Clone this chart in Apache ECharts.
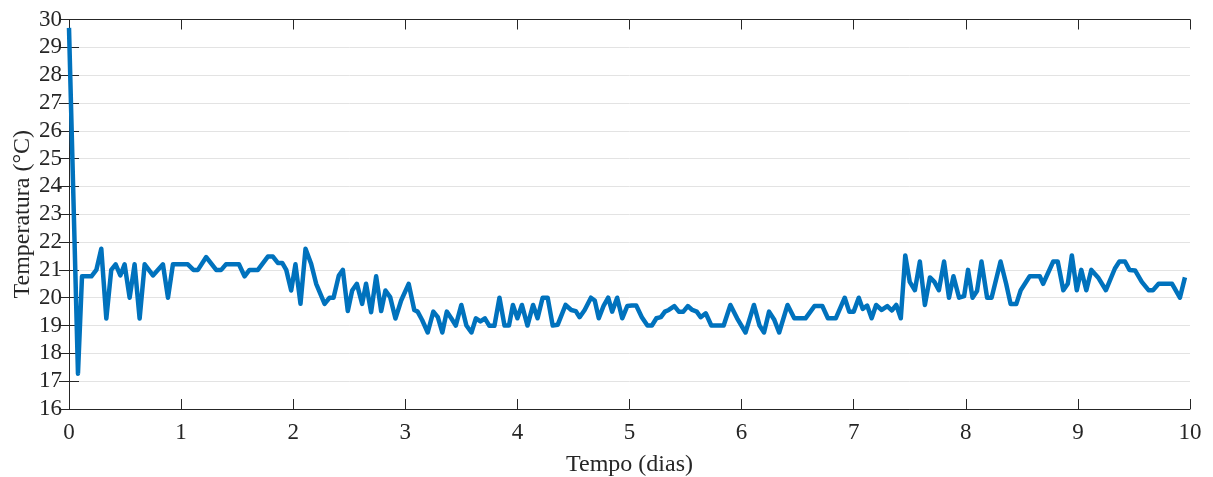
<!DOCTYPE html>
<html>
<head>
<meta charset="utf-8">
<script src="https://cdn.jsdelivr.net/npm/echarts@6/dist/echarts.min.js"></script>
<style>
html,body{margin:0;padding:0;background:#fff;}
#chart{width:1213px;height:477px;}
</style>
</head>
<body>
<div id="chart"></div>
<script>
// Time in days
var days = [0, 0.08, 0.116, 0.2, 0.244, 0.288, 0.333, 0.377, 0.416, 0.458, 0.496, 0.541, 0.585, 0.63, 0.675, 0.749, 0.838, 0.883, 0.927, 1.06, 1.11, 1.15, 1.224, 1.313, 1.358, 1.40, 1.516, 1.566, 1.61, 1.685, 1.774, 1.819, 1.863, 1.902, 1.938, 1.982, 2.02, 2.065, 2.11, 2.16, 2.205, 2.28, 2.324, 2.36, 2.407, 2.443, 2.487, 2.526, 2.568, 2.615, 2.65, 2.695, 2.74, 2.785, 2.823, 2.865, 2.912, 2.963, 3.03, 3.08, 3.11, 3.15, 3.2, 3.25, 3.29, 3.33, 3.37, 3.41, 3.45, 3.5, 3.545, 3.59, 3.63, 3.67, 3.71, 3.75, 3.795, 3.84, 3.885, 3.925, 3.96, 4.0, 4.04, 4.09, 4.14, 4.18, 4.225, 4.27, 4.315, 4.36, 4.43, 4.48, 4.52, 4.555, 4.6, 4.656, 4.69, 4.726, 4.77, 4.81, 4.845, 4.89, 4.935, 4.98, 5.02, 5.06, 5.11, 5.16, 5.2, 5.24, 5.28, 5.316, 5.35, 5.4, 5.44, 5.48, 5.52, 5.56, 5.6, 5.635, 5.68, 5.73, 5.84, 5.9, 5.96, 6.035, 6.11, 6.16, 6.2, 6.245, 6.29, 6.335, 6.41, 6.47, 6.57, 6.65, 6.72, 6.77, 6.84, 6.92, 6.96, 7.0, 7.045, 7.08, 7.12, 7.16, 7.2, 7.25, 7.3, 7.34, 7.38, 7.42, 7.46, 7.5, 7.546, 7.59, 7.635, 7.68, 7.72, 7.76, 7.806, 7.85, 7.89, 7.94, 7.985, 8.02, 8.06, 8.1, 8.14, 8.19, 8.23, 8.31, 8.36, 8.4, 8.45, 8.49, 8.57, 8.66, 8.69, 8.78, 8.82, 8.87, 8.91, 8.946, 8.99, 9.03, 9.075, 9.12, 9.18, 9.25, 9.33, 9.37, 9.42, 9.46, 9.51, 9.57, 9.63, 9.67, 9.72, 9.84, 9.91, 9.955];
// Temperature in °C
var temps = [29.7, 17.27, 20.77, 20.77, 21.0, 21.76, 19.25, 21.0, 21.2, 20.8, 21.2, 20.0, 21.2, 19.25, 21.2, 20.8, 21.2, 20.0, 21.2, 21.2, 21.0, 21.0, 21.46, 21.0, 21.0, 21.2, 21.2, 20.77, 21.0, 21.0, 21.48, 21.48, 21.25, 21.25, 21.0, 20.26, 21.2, 19.78, 21.76, 21.22, 20.5, 19.78, 20.0, 20.0, 20.8, 21.0, 19.52, 20.26, 20.5, 19.78, 20.5, 19.48, 20.77, 19.52, 20.26, 20.02, 19.25, 19.9, 20.5, 19.56, 19.5, 19.2, 18.75, 19.5, 19.3, 18.75, 19.5, 19.26, 19.0, 19.74, 19.0, 18.75, 19.26, 19.15, 19.26, 18.99, 18.99, 20.0, 19.0, 19.0, 19.74, 19.26, 19.74, 19.0, 19.74, 19.26, 20.0, 20.0, 19.0, 19.03, 19.74, 19.56, 19.52, 19.3, 19.56, 20.0, 19.9, 19.26, 19.72, 20.0, 19.5, 20.0, 19.26, 19.7, 19.72, 19.72, 19.3, 19.0, 19.0, 19.26, 19.3, 19.5, 19.56, 19.7, 19.5, 19.5, 19.7, 19.56, 19.5, 19.3, 19.44, 19.0, 19.0, 19.74, 19.26, 18.75, 19.74, 19.0, 18.75, 19.5, 19.22, 18.75, 19.74, 19.26, 19.26, 19.7, 19.7, 19.26, 19.26, 20.0, 19.5, 19.5, 20.0, 19.6, 19.72, 19.26, 19.74, 19.56, 19.7, 19.54, 19.74, 19.26, 21.52, 20.57, 20.27, 21.3, 19.74, 20.73, 20.57, 20.27, 21.3, 20.0, 20.77, 20.0, 20.06, 21.0, 20.0, 20.24, 21.3, 20.0, 20.0, 21.3, 20.5, 19.77, 19.77, 20.27, 20.77, 20.77, 20.5, 21.3, 21.3, 20.27, 20.5, 21.52, 20.27, 21.0, 20.27, 21.0, 20.73, 20.27, 21.05, 21.3, 21.3, 21.0, 20.98, 20.57, 20.27, 20.27, 20.5, 20.5, 20.0, 20.73];
var xTicks = [0,1,2,3,4,5,6,7,8,9,10];
var yTicks = [16,17,18,19,20,21,22,23,24,25,26,27,28,29,30];

var chart = echarts.init(document.getElementById('chart'), null, {renderer: 'canvas'});
var pts = days.map(function(d, i){ return [d, temps[i]]; });
var font = 'Liberation Serif';
var axisCol = '#262626';
var option = {
  animation: false,
  backgroundColor: '#ffffff',
  grid: {left: 69, right: 23, top: 19.5, bottom: 68, containLabel: false, outerBoundsMode: 'none'},
  xAxis: [{
    type: 'value', min: xTicks[0], max: xTicks[xTicks.length-1], interval: 1,
    name: 'Tempo (dias)', nameLocation: 'middle', nameGap: 44, nameMoveOverlap: false,
    nameTextStyle: {fontFamily: font, fontSize: 24, color: '#262626'},
    axisLine: {show: true, lineStyle: {color: axisCol, width: 1}},
    axisTick: {show: true, inside: true, length: 10, lineStyle: {color: axisCol}},
    axisLabel: {fontFamily: font, fontSize: 23, color: '#262626', margin: 12},
    splitLine: {show: false}
  }, {
    type: 'value', position: 'top', min: 0, max: 10, interval: 1,
    axisLine: {show: true, lineStyle: {color: axisCol, width: 1}},
    axisTick: {show: true, inside: true, length: 10, lineStyle: {color: axisCol}},
    axisLabel: {show: false}, splitLine: {show: false}
  }],
  yAxis: [{
    type: 'value', min: yTicks[0], max: yTicks[yTicks.length-1], interval: 1,
    name: 'Temperatura (°C)', nameLocation: 'middle', nameGap: 34, nameRotate: 90, nameMoveOverlap: false,
    nameTextStyle: {fontFamily: font, fontSize: 24, color: '#262626'},
    axisLine: {show: true, lineStyle: {color: axisCol, width: 1}},
    axisTick: {show: true, inside: true, length: 10, lineStyle: {color: axisCol}},
    axisLabel: {fontFamily: font, fontSize: 23, color: '#262626', margin: 7},
    splitLine: {show: true, lineStyle: {color: '#e3e3e3', width: 1}}
  }, {
    type: 'value', position: 'right', min: 16, max: 30, interval: 1,
    axisLine: {show: true, lineStyle: {color: axisCol, width: 1}},
    axisTick: {show: true, inside: true, length: 10, lineStyle: {color: axisCol}},
    axisLabel: {show: false}, splitLine: {show: false}
  }],
  series: [{
    type: 'line', data: pts, xAxisIndex: 0, yAxisIndex: 0,
    showSymbol: false, symbol: 'none',
    lineStyle: {color: '#0072BD', width: 4.5, join: 'round'},
    z: 1
  }]
};
chart.setOption(option);
</script>
</body>
</html>
